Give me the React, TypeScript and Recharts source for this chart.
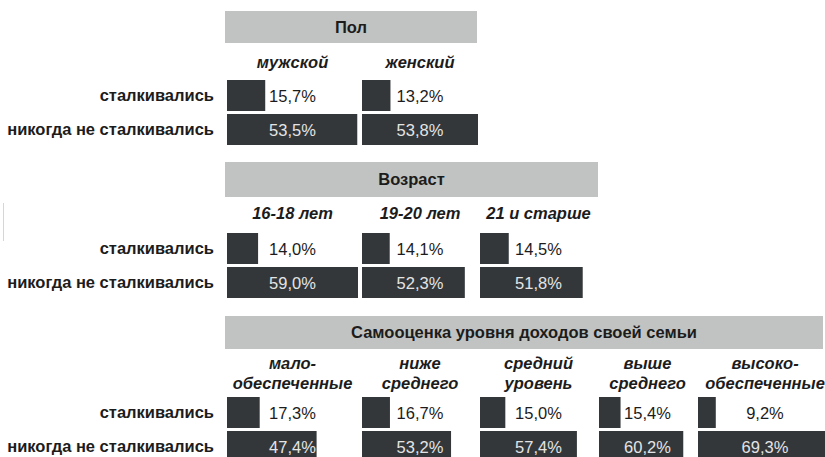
import React from 'react';
import { BarChart, Bar, XAxis, YAxis, LabelList } from 'recharts';

// ---- data ----
const rowLabels = ['сталкивались', 'никогда не сталкивались'];
const sectionTitles = ['Пол', 'Возраст', 'Самооценка уровня доходов своей семьи'];

const genderCats = ['мужской', 'женский'];
const genderFaced = [15.7, 13.2];
const genderNever = [53.5, 53.8];

const ageCats = ['16-18 лет', '19-20 лет', '21 и старше'];
const ageFaced = [14.0, 14.1, 14.5];
const ageNever = [59.0, 52.3, 51.8];

const incomeCats = ['мало-\nобеспеченные', 'ниже\nсреднего', 'средний\nуровень', 'выше\nсреднего', 'высоко-\nобеспеченные'];
const incomeFaced = [17.3, 16.7, 15.0, 15.4, 9.2];
const incomeNever = [47.4, 53.2, 57.4, 60.2, 69.3];

// ---- layout ----
const FONT = "'Liberation Sans', Arial, Helvetica, sans-serif";
const FS = 16.5;
const BAR = '#33373a';
const HEAD_BG = '#c1c3c2';
const TEXT = '#1c1c1c';
const INNER_TEXT = '#e4e4e4';
const colX = [227, 362, 480, 599, 698];
const colW = [131, 116, 117, 97, 134];
const ROW_BAND = 34;

const sections = [
  { title: sectionTitles[0], cats: genderCats, faced: genderFaced, never: genderNever, headTop: 11, headH: 32, headW: 252, labelTop: 52, chartTop: 78 },
  { title: sectionTitles[1], cats: ageCats, faced: ageFaced, never: ageNever, headTop: 162, headH: 35, headW: 373, labelTop: 203, chartTop: 231 },
  { title: sectionTitles[2], cats: incomeCats, faced: incomeFaced, never: incomeNever, headTop: 316, headH: 33, headW: 598, labelTop: 353, chartTop: 395 },
];

const fmt = (v: number) => v.toFixed(1).replace('.', ',') + '%';

function Column(props: { ci: number; top: number; faced: number; never: number; max: number; showAxis: boolean }) {
  const { ci, top, faced, never, max, showAxis } = props;
  const x = colX[ci];
  const w = colW[ci];
  const data = [
    { row: rowLabels[0], v: faced },
    { row: rowLabels[1], v: never },
  ];
  const chartW = showAxis ? x + w : w;
  const renderLabel = (p: any) => {
    const idx = p.index !== undefined ? p.index : (p.y < top + ROW_BAND ? 0 : 1);
    const cx = (showAxis ? x : 0) + w / 2;
    const cy = p.y + p.height / 2;
    return (
      <text x={cx} y={cy} textAnchor="middle" dominantBaseline="central" fontFamily={FONT} fontSize={FS} fill={idx === 0 ? TEXT : INNER_TEXT}>
        {fmt(Number(p.value))}
      </text>
    );
  };
  const renderTick = (p: any) => (
    <text x={p.x} y={p.y} textAnchor="end" dominantBaseline="central" fontFamily={FONT} fontSize={FS} fontWeight="bold" fill={TEXT}>
      {p.payload.value}
    </text>
  );
  return (
    <div style={{ position: 'absolute', left: showAxis ? 0 : x, top }}>
      <BarChart layout="vertical" width={chartW} height={ROW_BAND * 2} data={data} margin={{ top: 0, right: 0, bottom: 0, left: 0 }} barCategoryGap={3}>
        <XAxis type="number" domain={[0, max]} hide allowDataOverflow />
        <YAxis
          type="category"
          dataKey="row"
          hide={!showAxis}
          width={showAxis ? x : 0}
          axisLine={false}
          tickLine={false}
          tickSize={0}
          tickMargin={13}
          tick={renderTick}
          interval={0}
        />
        <Bar dataKey="v" fill={BAR} barSize={31} isAnimationActive={false}>
          <LabelList dataKey="v" content={renderLabel} />
        </Bar>
      </BarChart>
    </div>
  );
}

export default function App() {
  return (
    <div style={{ position: 'absolute', left: 0, top: 0, width: 825, height: 457, overflow: 'hidden', background: '#ffffff', fontFamily: FONT }}>
      <div style={{ position: 'absolute', left: 3, top: 203, width: 1, height: 38, background: '#d6d6d6' }} />
      {sections.map((s, si) => {
        const max = Math.max(...s.never, ...s.faced);
        return (
          <React.Fragment key={si}>
            <div
              style={{
                position: 'absolute', left: 225, top: s.headTop, width: s.headW, height: s.headH,
                background: HEAD_BG, color: TEXT, fontWeight: 'bold', fontSize: FS,
                lineHeight: s.headH + 'px', textAlign: 'center',
              }}
            >
              {s.title}
            </div>
            {s.cats.map((c, ci) => (
              <div
                key={'l' + ci}
                style={{
                  position: 'absolute', left: colX[ci], top: s.labelTop, width: colW[ci],
                  textAlign: 'center', fontWeight: 'bold', fontStyle: 'italic', fontSize: FS,
                  lineHeight: '20px', color: TEXT, whiteSpace: 'pre-line',
                }}
              >
                {c}
              </div>
            ))}
            {s.cats.map((c, ci) => (
              <Column key={'c' + ci} ci={ci} top={s.chartTop} faced={s.faced[ci]} never={s.never[ci]} max={max} showAxis={ci === 0} />
            ))}
          </React.Fragment>
        );
      })}
    </div>
  );
}
